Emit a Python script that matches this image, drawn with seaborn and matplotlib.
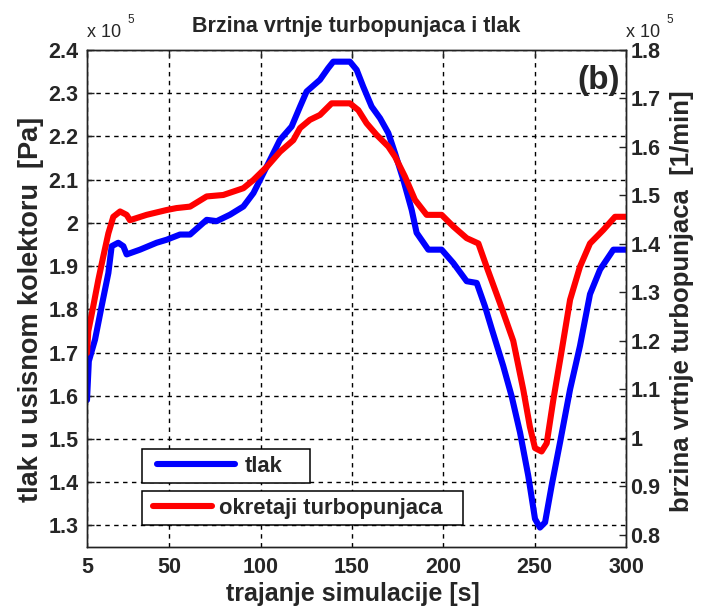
import matplotlib
matplotlib.use("Agg")
import matplotlib.pyplot as plt
from matplotlib.lines import Line2D
from matplotlib.legend_handler import HandlerLine2D
from matplotlib.ticker import FuncFormatter, FixedLocator
import numpy as np
import pandas as pd
import seaborn as sns

# ---- data (values in units of 10^5) ----
tlak_t = [5, 6, 9.4, 13.0, 16.7, 18.5, 22.1, 24.9, 26.7, 34.0, 43.1, 48.6, 55.9,
          61.4, 70.5, 76.0, 83.3, 90.6, 96.1, 100.6, 105.2, 110.6, 117.0, 121.6,
          125.2, 132.5, 137.0, 139.8, 148.9, 152.6, 156.2, 160.8, 165.4, 169.9,
          173.6, 178.1, 182.7, 185.4, 191.8, 199.1, 205.5, 212.8, 218.3, 222.8,
          226.5, 232.8, 237.4, 242.0, 246.5, 250.2, 252.9, 255.7, 259.3, 263.9,
          269.4, 274.8, 280.3, 285.8, 293.1, 300]
tlak_p = [1.59, 1.68, 1.73, 1.807, 1.884, 1.946, 1.954, 1.946, 1.927, 1.938, 1.954,
          1.961, 1.973, 1.973, 2.007, 2.004, 2.019, 2.038, 2.069, 2.107, 2.146,
          2.192, 2.223, 2.269, 2.304, 2.331, 2.358, 2.373, 2.373, 2.354, 2.315,
          2.269, 2.242, 2.208, 2.161, 2.100, 2.030, 1.977, 1.938, 1.938, 1.907,
          1.865, 1.861, 1.807, 1.755, 1.669, 1.599, 1.515, 1.415, 1.315, 1.295,
          1.307, 1.392, 1.492, 1.615, 1.715, 1.835, 1.892, 1.938, 1.938]

turbo_t = [5, 5.7, 8.4, 11.2, 13.9, 16.7, 19.4, 23.1, 26.7, 28.5, 37.6, 48.6, 54.0,
           61.4, 70.5, 79.6, 90.6, 96.1, 103.4, 110.6, 117.9, 121.6, 127.0, 132.5,
           138.9, 148.9, 153.5, 158.0, 163.5, 169.9, 173.6, 179.0, 184.5, 190.9,
           199.1, 205.5, 212.8, 219.2, 223.7, 231.0, 238.3, 243.8, 247.4, 250.2,
           253.8, 256.6, 260.2, 264.8, 269.4, 274.8, 280.3, 287.6, 294.0, 300]
turbo_n = [1.175, 1.22, 1.271, 1.326, 1.374, 1.422, 1.456, 1.467, 1.460, 1.449,
           1.460, 1.470, 1.474, 1.477, 1.498, 1.501, 1.515, 1.532, 1.559, 1.590,
           1.614, 1.639, 1.656, 1.666, 1.690, 1.690, 1.676, 1.649, 1.625, 1.601,
           1.580, 1.539, 1.491, 1.460, 1.460, 1.436, 1.412, 1.401, 1.353, 1.278,
           1.200, 1.099, 1.023, 0.979, 0.972, 0.989, 1.078, 1.180, 1.285, 1.353,
           1.401, 1.429, 1.456, 1.456]

x_ticks = [5, 50, 100, 150, 200, 250, 300]
left_ticks = [1.3, 1.4, 1.5, 1.6, 1.7, 1.8, 1.9, 2.0, 2.1, 2.2, 2.3, 2.4]
right_ticks = [0.8, 0.9, 1.0, 1.1, 1.2, 1.3, 1.4, 1.5, 1.6, 1.7, 1.8]

df_tlak = pd.DataFrame({"t": tlak_t, "v": tlak_p})
df_turbo = pd.DataFrame({"t": turbo_t, "v": turbo_n})

# ---- style ----
sns.set_style("white")
plt.rcParams["font.family"] = ["Liberation Sans", "DejaVu Sans"]
plt.rcParams["font.weight"] = "bold"
plt.rcParams["axes.labelweight"] = "bold"
plt.rcParams["axes.titleweight"] = "bold"
plt.rcParams["axes.edgecolor"] = "#222222"
plt.rcParams["axes.linewidth"] = 1.0

W, H = 708, 613
fig = plt.figure(figsize=(W / 100, H / 100), dpi=100)
fig.patch.set_facecolor("white")
ax = fig.add_axes([87 / W, 1 - 547 / H, (626 - 87) / W, (547 - 50) / H])
ax2 = ax.twinx()

LW = 4.4
sns.lineplot(data=df_tlak, x="t", y="v", ax=ax, color="blue", lw=LW,
             sort=False, estimator=None)
sns.lineplot(data=df_turbo, x="t", y="v", ax=ax2, color="red", lw=LW,
             sort=False, estimator=None)

ax.set_xlim(5, 300)
ax.set_ylim(1.25, 2.4)
ax2.set_ylim(0.775, 1.8)

fmt = FuncFormatter(lambda v, p: f"{v:g}")
ax.xaxis.set_major_locator(FixedLocator(x_ticks))
ax.yaxis.set_major_locator(FixedLocator(left_ticks))
ax2.yaxis.set_major_locator(FixedLocator(right_ticks))
ax.xaxis.set_major_formatter(fmt)
ax.yaxis.set_major_formatter(fmt)
ax2.yaxis.set_major_formatter(fmt)

ax.grid(True, color="black", linestyle=(0, (3.2, 3.2)), linewidth=1.0)
ax.set_axisbelow(True)

TICK_FS = 15.5
ax.tick_params(axis="both", direction="in", length=5, width=1, labelsize=TICK_FS,
               color="#222222")
ax.tick_params(axis="x", top=True, pad=7.5)
ax.tick_params(axis="y", left=True, right=False, pad=6)
ax2.tick_params(axis="y", direction="in", length=5, width=1, labelsize=TICK_FS,
                left=False, right=True, pad=3, color="#222222")

ax.set_xlabel("trajanje simulacije [s]", fontsize=18)
ax.xaxis.set_label_coords(0.4935, -0.071)
ax.set_ylabel("tlak u usisnom kolektoru  [Pa]", fontsize=19.5)
ax.yaxis.set_label_coords(-0.080, 0.477)
ax2.set_ylabel("brzina vrtnje turbopunjaca  [1/min]", fontsize=18.5)
ax2.yaxis.set_label_coords(1.081, 0.495)

ax.set_title("Brzina vrtnje turbopunjaca i tlak", fontsize=15.5, pad=13)

# exponent markers above both y axes
for x0 in (87, 626):
    fig.text(x0 / W, 1 - 37 / H, "x 10", fontsize=13, fontweight="normal",
             ha="left", va="baseline")
    fig.text((x0 + 40) / W, 1 - 23 / H, "5", fontsize=8.5, fontweight="normal",
             ha="left", va="baseline")

fig.text(620 / W, 1 - 80 / H, "(b)", fontsize=24, ha="right", va="center")

# legend: two separate boxes
LEG_FS = 15.8
h_tlak = Line2D([], [], color="blue", lw=LW)
h_turbo = Line2D([], [], color="red", lw=LW)
leg1 = ax2.legend([h_tlak], ["tlak"], loc="upper left",
                  bbox_to_anchor=(142 / W, 1 - 487 / H, 168 / W, 38 / H),
                  bbox_transform=fig.transFigure, mode="expand",
                  borderaxespad=0, borderpad=0.3, handlelength=3.95,
                  handletextpad=0.45, fancybox=False, framealpha=1,
                  edgecolor="black", fontsize=LEG_FS,
                  handler_map={h_tlak: HandlerLine2D(xpad=0.38)})
leg1.get_frame().set_linewidth(1.1)
ax2.add_artist(leg1)
leg2 = ax2.legend([h_turbo], ["okretaji turbopunjaca"], loc="upper left",
                  bbox_to_anchor=(142 / W, 1 - 528 / H, 321 / W, 37 / H),
                  bbox_transform=fig.transFigure, mode="expand",
                  borderaxespad=0, borderpad=0.3, handlelength=2.9,
                  handletextpad=0.32, fancybox=False, framealpha=1,
                  edgecolor="black", fontsize=LEG_FS,
                  handler_map={h_turbo: HandlerLine2D(xpad=0.2)})
leg2.get_frame().set_linewidth(1.1)

fig.savefig("out.png", dpi=100, facecolor="white")
